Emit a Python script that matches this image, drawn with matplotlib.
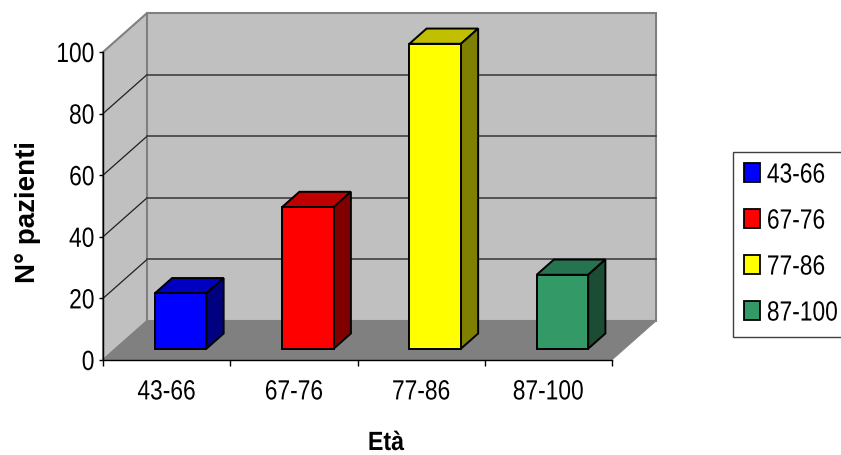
import matplotlib
matplotlib.use('Agg')
import matplotlib.pyplot as plt
from matplotlib.patches import Polygon, Patch
from matplotlib.patheffects import AbstractPathEffect
from matplotlib.transforms import Affine2D

plt.rcParams['font.family'] = ['Liberation Sans', 'DejaVu Sans']

categories = ['43-66', '67-76', '77-86', '87-100']
values = [18, 46, 99, 24]
front_colors = ['#0000ff', '#ff0000', '#ffff00', '#339966']
top_colors = ['#0000c0', '#c00000', '#c0c000', '#267350']
side_colors = ['#000080', '#800000', '#808000', '#1a4d33']
y_ticks = [0, 20, 40, 60, 80, 100]

# sfasamento della profondita' in unita' dei dati
depth_x = 44 / 127
depth_y = 39 / 3.08
bar_width = 0.405
bar_shift = 0.01
bar_front = 0.29
bar_back = 0.68


class Squeeze(AbstractPathEffect):
    # stringe il testo in larghezza (il font originale e' un Arial Narrow)
    def __init__(self, sx=0.82, align=0.0):
        super().__init__()
        self.sx = sx
        self.align = align

    def draw_path(self, renderer, gc, tpath, affine, rgbFace=None):
        w = tpath.get_extents().x1
        shift = (1 - self.sx) * w * self.align
        t = Affine2D().scale(self.sx, 1).translate(shift, 0) + affine
        renderer.draw_path(gc, tpath, t, rgbFace)


def proj(x, y, d):
    return (x + d * depth_x, y + d * depth_y)


def poly(ax, pts, color, edge='none', lw=0, z=1):
    ax.add_patch(Polygon(pts, closed=True, facecolor=color, edgecolor=edge,
                         linewidth=lw, zorder=z, clip_on=False, joinstyle='miter'))


fig = plt.figure(figsize=(8.41, 4.56), dpi=100)
ax = fig.add_axes([103 / 841, (456 - 361) / 456, 509 / 841, 308 / 456])
ax.set_xlim(0, 4)
ax.set_ylim(0, 100)
n = len(categories)

# pareti e pavimento
poly(ax, [proj(0, 0, 0), proj(0, 100, 0), proj(0, 100, 1), proj(0, 0, 1)], '#c0c0c0', '#808080', 1.5, 1)
poly(ax, [proj(0, 0, 1), proj(0, 100, 1), proj(n, 100, 1), proj(n, 0, 1)], '#c0c0c0', '#808080', 1.5, 1)
poly(ax, [proj(0, 0, 0), proj(n, 0, 0), proj(n, 0, 1), proj(0, 0, 1)], '#808080', '#808080', 0.5, 2)

# griglia
for v in y_ticks[1:-1]:
    a, b, c = proj(0, v, 0), proj(0, v, 1), proj(n, v, 1)
    ax.plot([a[0], b[0]], [a[1], b[1]], color='#202020', lw=0.9, zorder=2, clip_on=False)
    ax.plot([b[0], c[0]], [b[1], c[1]], color='#404040', lw=1.2, zorder=2, clip_on=False)

# barre
for i, v in enumerate(values):
    x0 = i + 0.5 + bar_shift - bar_width / 2
    x1 = x0 + bar_width
    z = 3 + i
    poly(ax, [proj(x0, v, bar_front), proj(x1, v, bar_front), proj(x1, v, bar_back), proj(x0, v, bar_back)],
         top_colors[i], 'black', 1.4, z)
    poly(ax, [proj(x1, 0, bar_front), proj(x1, v, bar_front), proj(x1, v, bar_back), proj(x1, 0, bar_back)],
         side_colors[i], 'black', 1.4, z)
    poly(ax, [proj(x0, 0, bar_front), proj(x1, 0, bar_front), proj(x1, v, bar_front), proj(x0, v, bar_front)],
         front_colors[i], 'black', 1.4, z)

# assi
ax.patch.set_visible(False)
for s in ['top', 'right']:
    ax.spines[s].set_visible(False)
for s in ['left', 'bottom']:
    ax.spines[s].set_linewidth(1.0)
    ax.spines[s].set_zorder(10)
ax.set_yticks(y_ticks)
ax.set_xticks(range(n + 1))
ax.set_xticklabels([])
ax.set_xticks([i + 0.5 for i in range(n)], categories, minor=True)
ax.tick_params(axis='y', length=3, width=1, labelsize=20, pad=3)
ax.tick_params(axis='x', which='major', length=4, width=1)
ax.tick_params(axis='x', which='minor', length=0, labelsize=20, pad=14)
for lab in ax.get_yticklabels():
    lab.set_path_effects([Squeeze(0.82, 1.0)])
for lab in ax.get_xticklabels(minor=True):
    lab.set_path_effects([Squeeze(0.82, 0.5)])

# titoli degli assi
fig.text(386 / 841, 1 - 444 / 456, 'Età', fontsize=19, fontweight='bold', ha='center', va='center',
         path_effects=[Squeeze(0.88, 0.5)])
fig.text(28 / 841, 1 - 212 / 456, 'N° pazienti', fontsize=20, fontweight='bold', ha='center', va='center',
         rotation=90)

# legenda
handles = [Patch(facecolor=c, edgecolor='black', linewidth=1.3) for c in front_colors]
leg = fig.legend(handles, categories, loc='upper left', bbox_to_anchor=(733 / 841, 1 - 153 / 456),
                 fontsize=20, frameon=True, fancybox=False, framealpha=1, edgecolor='#404040',
                 handlelength=0.58, handleheight=0.68, handletextpad=0.26, labelspacing=0.72,
                 borderaxespad=0, borderpad=0.38)
for t in leg.get_texts():
    t.set_path_effects([Squeeze(0.82, 0.0)])

fig.savefig('out.png', dpi=100)
